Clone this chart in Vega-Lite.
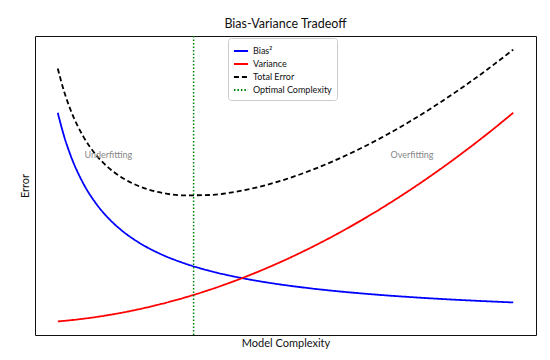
{
  "$schema": "https://vega.github.io/schema/vega-lite/v6.json",
  "autosize": "none",
  "width": 501,
  "height": 299,
  "padding": {"left": 35, "top": 36, "right": 14, "bottom": 25},
  "background": "white",
  "config": {
    "font": "Lato",
    "view": {"stroke": "#111", "strokeWidth": 1},
    "title": {"fontSize": 12.5, "fontWeight": "normal", "color": "#111", "offset": 5},
    "axis": {"labels": false, "ticks": false, "domain": false, "grid": false, "titleFontWeight": "normal", "titleFontSize": 11, "titleColor": "#111"}
  },
  "title": "Bias-Variance Tradeoff",
  "datasets": {
    "curves": [
      {"x": 1, "Bias²": 1, "Variance": 0.01, "Total Error": 1.21},
      {"x": 1.125, "Bias²": 0.8889, "Variance": 0.0127, "Total Error": 1.1016},
      {"x": 1.25, "Bias²": 0.8, "Variance": 0.0156, "Total Error": 1.0156},
      {"x": 1.5, "Bias²": 0.6667, "Variance": 0.0225, "Total Error": 0.8892},
      {"x": 1.75, "Bias²": 0.5714, "Variance": 0.0306, "Total Error": 0.802},
      {"x": 2, "Bias²": 0.5, "Variance": 0.04, "Total Error": 0.74},
      {"x": 2.25, "Bias²": 0.4444, "Variance": 0.0506, "Total Error": 0.6951},
      {"x": 2.5, "Bias²": 0.4, "Variance": 0.0625, "Total Error": 0.6625},
      {"x": 2.75, "Bias²": 0.3636, "Variance": 0.0756, "Total Error": 0.6393},
      {"x": 3, "Bias²": 0.3333, "Variance": 0.09, "Total Error": 0.6233},
      {"x": 3.5, "Bias²": 0.2857, "Variance": 0.1225, "Total Error": 0.6082},
      {"x": 4, "Bias²": 0.25, "Variance": 0.16, "Total Error": 0.61},
      {"x": 4.5, "Bias²": 0.2222, "Variance": 0.2025, "Total Error": 0.6247},
      {"x": 5, "Bias²": 0.2, "Variance": 0.25, "Total Error": 0.65},
      {"x": 5.5, "Bias²": 0.1818, "Variance": 0.3025, "Total Error": 0.6843},
      {"x": 6, "Bias²": 0.1667, "Variance": 0.36, "Total Error": 0.7267},
      {"x": 6.5, "Bias²": 0.1538, "Variance": 0.4225, "Total Error": 0.7763},
      {"x": 7, "Bias²": 0.1429, "Variance": 0.49, "Total Error": 0.8329},
      {"x": 7.5, "Bias²": 0.1333, "Variance": 0.5625, "Total Error": 0.8958},
      {"x": 8, "Bias²": 0.125, "Variance": 0.64, "Total Error": 0.965},
      {"x": 8.5, "Bias²": 0.1176, "Variance": 0.7225, "Total Error": 1.0401},
      {"x": 9, "Bias²": 0.1111, "Variance": 0.81, "Total Error": 1.1211},
      {"x": 9.5, "Bias²": 0.1053, "Variance": 0.9025, "Total Error": 1.2078},
      {"x": 10, "Bias²": 0.1, "Variance": 1.0, "Total Error": 1.3}
    ],
    "optimal": [{"x": 3.684, "s": "Optimal Complexity"}],
    "labels": [
      {"x": 2, "y": 0.8, "t": "Underfitting"},
      {"x": 8, "y": 0.8, "t": "Overfitting"}
    ]
  },
  "layer": [
    {
      "data": {"name": "curves"},
      "transform": [{"fold": ["Bias²", "Variance", "Total Error"], "as": ["s", "y"]}],
      "mark": {"type": "line", "interpolate": "monotone", "strokeWidth": 1.8},
      "encoding": {
        "x": {"field": "x", "type": "quantitative", "scale": {"domain": [0.55, 10.45], "nice": false, "zero": false}, "title": "Model Complexity", "axis": {"titlePadding": 2}},
        "y": {"field": "y", "type": "quantitative", "scale": {"domain": [-0.0545, 1.3645], "nice": false, "zero": false}, "title": "Error", "axis": {"titlePadding": 5}},
        "color": {"field": "s", "type": "nominal", "title": null,
          "scale": {"domain": ["Bias²", "Variance", "Total Error", "Optimal Complexity"], "range": ["#0000ff", "#ff0000", "#000000", "#008000"]},
          "legend": {"orient": "none", "legendX": 193, "legendY": 2, "symbolType": "stroke", "symbolSize": 200, "symbolStrokeWidth": 1.8, "labelFontSize": 9, "labelColor": "#111", "rowPadding": 0, "padding": 5, "strokeColor": "#ccc", "cornerRadius": 3, "fillColor": "white"}},
        "strokeDash": {"field": "s", "type": "nominal", "title": null,
          "scale": {"domain": ["Bias²", "Variance", "Total Error", "Optimal Complexity"], "range": [[1, 0], [1, 0], [5, 3], [1.5, 2]]}},
        "order": {"field": "x", "type": "quantitative"}
      }
    },
    {
      "data": {"name": "optimal"},
      "mark": {"type": "rule", "strokeWidth": 1.5},
      "encoding": {
        "x": {"field": "x", "type": "quantitative"},
        "color": {"field": "s", "type": "nominal"},
        "strokeDash": {"field": "s", "type": "nominal"}
      }
    },
    {
      "data": {"name": "labels"},
      "mark": {"type": "text", "fontSize": 9, "color": "#888"},
      "encoding": {
        "x": {"field": "x", "type": "quantitative"},
        "y": {"field": "y", "type": "quantitative"},
        "text": {"field": "t"}
      }
    }
  ]
}
